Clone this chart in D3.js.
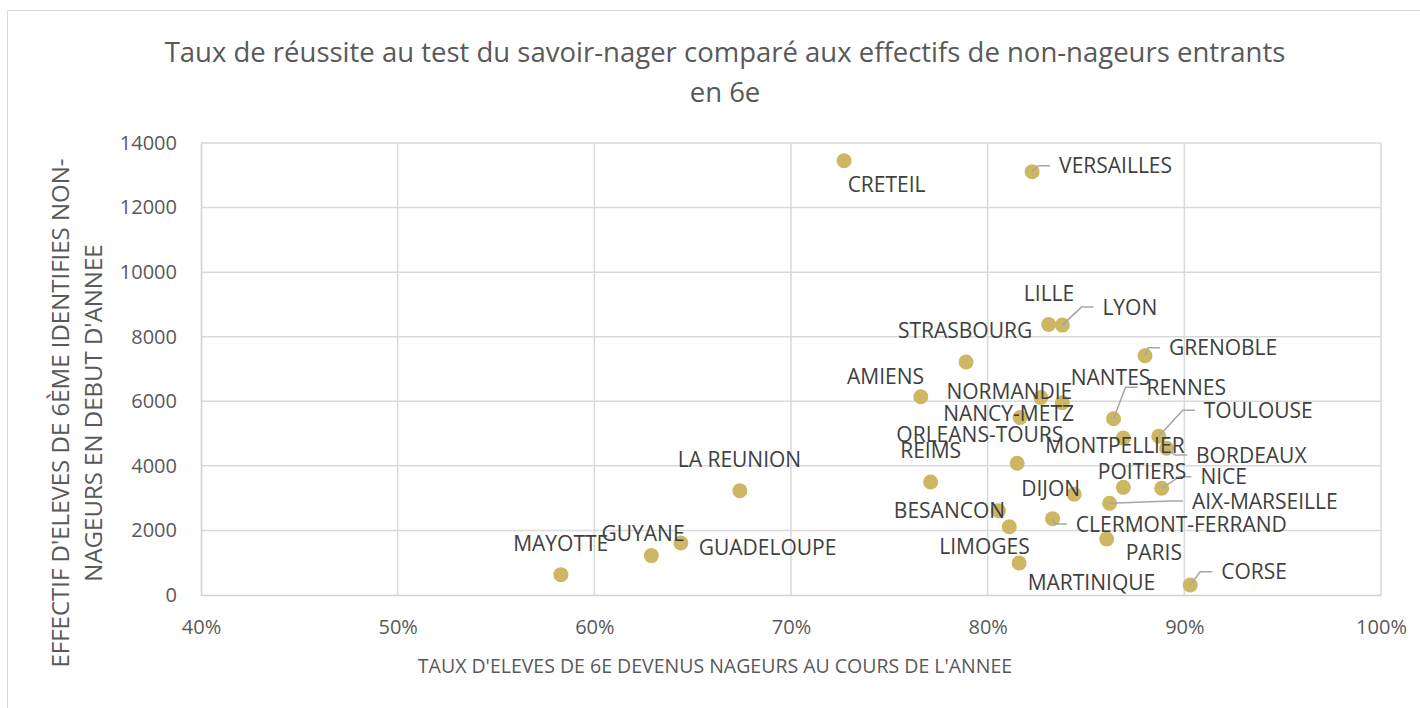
<!DOCTYPE html>
<html>
<head>
<meta charset="utf-8">
<script src="https://cdn.jsdelivr.net/npm/d3@7"></script>
<style>
  html, body { margin: 0; padding: 0; background: #fff; }
  svg { display: block; font-family: "Open Sans", sans-serif; }
</style>
</head>
<body>
<div id="chart"></div>
<script>
// academies
const academies = [
  'CRETEIL', 'VERSAILLES', 'LILLE', 'LYON', 'STRASBOURG', 'GRENOBLE', 'AMIENS',
  'NORMANDIE', 'NANTES', 'NANCY-METZ', 'RENNES', 'TOULOUSE', 'ORLEANS-TOURS',
  'MONTPELLIER', 'BORDEAUX', 'REIMS', 'POITIERS', 'NICE', 'DIJON', 'AIX-MARSEILLE',
  'BESANCON', 'CLERMONT-FERRAND', 'LIMOGES', 'PARIS', 'MARTINIQUE', 'CORSE',
  'LA REUNION', 'GUADELOUPE', 'GUYANE', 'MAYOTTE'
];
const successRates = [
  0.727, 0.8226, 0.831, 0.838, 0.789, 0.880, 0.766,
  0.827, 0.838, 0.8165, 0.864, 0.887, 0.815,
  0.869, 0.891, 0.771, 0.869, 0.8885, 0.844, 0.862,
  0.8055, 0.833, 0.811, 0.8605, 0.816, 0.903,
  0.674, 0.644, 0.629, 0.583
];
const nonSwimmers = [
  13450, 13110, 8380, 8360, 7215, 7410, 6140,
  6120, 5955, 5500, 5460, 4915, 4080,
  4860, 4545, 3500, 3335, 3305, 3120, 2840,
  2610, 2365, 2115, 1735, 990, 310,
  3230, 1610, 1220, 630
];
const xTicks = [0.4, 0.5, 0.6, 0.7, 0.8, 0.9, 1.0];
const yTicks = [0, 2000, 4000, 6000, 8000, 10000, 12000, 14000];

const titleLines = ['Taux de réussite au test du savoir-nager comparé aux effectifs de non-nageurs entrants', 'en 6e'];
const xTitle = "TAUX D'ELEVES DE 6E DEVENUS NAGEURS AU COURS DE L'ANNEE";
const yTitleLines = ["EFFECTIF D'ELEVES DE 6ÈME IDENTIFIES NON-", "NAGEURS EN DEBUT D'ANNEE"];

// label placement (px from the dot); leader labels are left-anchored
const labelPos = {
  'CRETEIL': [42.5, 24], 'VERSAILLES': [27, -6, true], 'LILLE': [0.4, -31], 'LYON': [40, -18, true],
  'STRASBOURG': [-1, -32], 'GRENOBLE': [24, -8, true], 'AMIENS': [-35.2, -20], 'NORMANDIE': [-31.4, -5.6],
  'NANTES': [48.1, -25], 'NANCY-METZ': [-11.5, -4], 'RENNES': [33, -31.4, true], 'TOULOUSE': [45, -26, true],
  'ORLEANS-TOURS': [-37.3, -29.3], 'MONTPELLIER': [-8.4, 7.7], 'BORDEAUX': [29.4, 6.7, true], 'REIMS': [0, -32],
  'POITIERS': [18.7, -16.3], 'NICE': [38.7, -11.6, true], 'DIJON': [-23.5, -5.6], 'AIX-MARSEILLE': [82.3, -2.3, true],
  'BESANCON': [-49, 0], 'CLERMONT-FERRAND': [23.3, 5.3, true], 'LIMOGES': [-24.8, 19.3], 'PARIS': [47.2, 13.7],
  'MARTINIQUE': [72.3, 19.7], 'CORSE': [31, -13.3, true], 'LA REUNION': [-0.4, -31.7], 'GUADELOUPE': [86.7, 4.3],
  'GUYANE': [-8.3, -22.4], 'MAYOTTE': [-0.2, -31.4]
};

const W = 1420, H = 708;
const plot = { left: 201, right: 1381, top: 143, bottom: 595 };
const dotColor = '#cdb763';
const textGrey = '#595959';

const svg = d3.select('#chart').append('svg').attr('width', W).attr('height', H);

// chart frame
svg.append('rect').attr('x', 7.5).attr('y', 10.5).attr('width', W).attr('height', H)
  .attr('fill', 'none').attr('stroke', '#d9d9d9').attr('stroke-width', 1);

const x = d3.scaleLinear().domain([0.4, 1.0]).range([plot.left, plot.right]);
const y = d3.scaleLinear().domain([0, 14000]).range([plot.bottom, plot.top]);

// gridlines
const grid = svg.append('g');
grid.selectAll('.hg').data(yTicks.slice(1)).enter().append('line')
  .attr('x1', plot.left).attr('x2', plot.right)
  .attr('y1', (d) => y(d)).attr('y2', (d) => y(d))
  .attr('stroke', '#d9d9d9').attr('stroke-width', 1.5);
grid.selectAll('.vg').data(xTicks.slice(1)).enter().append('line')
  .attr('x1', (d) => x(d)).attr('x2', (d) => x(d))
  .attr('y1', plot.top).attr('y2', plot.bottom)
  .attr('stroke', '#d9d9d9').attr('stroke-width', 1.5);

// axes
const xAxis = svg.append('g').attr('transform', `translate(0,${plot.bottom})`)
  .call(d3.axisBottom(x).tickValues(xTicks).tickFormat(d3.format('.0%')).tickSize(0).tickPadding(33));
const yAxis = svg.append('g').attr('transform', `translate(${plot.left},0)`)
  .call(d3.axisLeft(y).tickValues(yTicks).tickFormat(d3.format('d')).tickSize(0).tickPadding(24));
[xAxis, yAxis].forEach((g) => {
  g.select('.domain').attr('stroke', '#d0d0d0').attr('stroke-width', 1.5);
  g.selectAll('text').attr('fill', textGrey).attr('font-size', 20)
    .attr('font-family', '"Open Sans", sans-serif');
});
xAxis.selectAll('text').attr('dy', '0.32em');

// title
svg.append('g').selectAll('text').data(titleLines).enter().append('text')
  .attr('x', 725).attr('y', (d, i) => 62 + i * 40)
  .attr('text-anchor', 'middle').attr('fill', textGrey).attr('font-size', 27.5)
  .text((d) => d);

// axis titles
svg.append('text').attr('x', 715).attr('y', 673)
  .attr('text-anchor', 'middle').attr('fill', textGrey).attr('font-size', 19.5)
  .text(xTitle);
svg.append('g').attr('transform', 'translate(69,413) rotate(-90)')
  .selectAll('text').data(yTitleLines).enter().append('text')
  .attr('x', 0).attr('y', (d, i) => i * 33)
  .attr('text-anchor', 'middle').attr('fill', textGrey).attr('font-size', 24)
  .text((d) => d);

const pts = academies.map((name, i) => ({ name, px: x(successRates[i]), py: y(nonSwimmers[i]) }));

// dots
svg.append('g').selectAll('circle').data(pts).enter().append('circle')
  .attr('cx', (d) => d.px).attr('cy', (d) => d.py).attr('r', 7.5)
  .attr('fill', dotColor);

// leader lines
svg.append('g').selectAll('polyline').data(pts.filter((d) => labelPos[d.name][2])).enter()
  .append('polyline')
  .attr('points', (d) => {
    const [dx, dy] = labelPos[d.name];
    const lx = d.px + dx, ly = d.py + dy;
    return [[d.px, d.py], [lx - 21, ly], [lx - 9, ly]].map((p) => p.join(',')).join(' ');
  })
  .attr('fill', 'none').attr('stroke', '#a6a6a6').attr('stroke-width', 1.5);

// data labels
svg.append('g').selectAll('text').data(pts).enter().append('text')
  .attr('x', (d) => d.px + labelPos[d.name][0])
  .attr('y', (d) => d.py + labelPos[d.name][1])
  .attr('dy', '0.36em')
  .attr('text-anchor', (d) => (labelPos[d.name][2] ? 'start' : 'middle'))
  .attr('fill', '#404040').attr('font-size', 21)
  .text((d) => d.name);
</script>
</body>
</html>
